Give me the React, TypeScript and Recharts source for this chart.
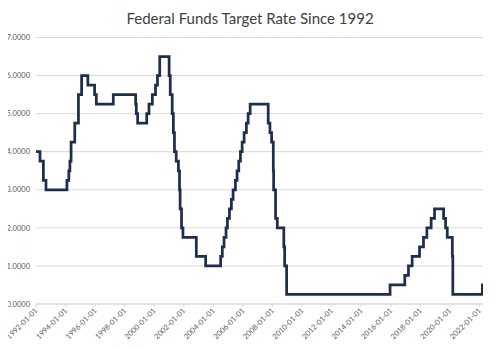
import React from 'react';
import { CartesianGrid, Line, LineChart, XAxis, YAxis } from 'recharts';

// dates where the target rate changed (plus the last observation)
const changeDates = [
    '1992-01-01', '1992-04-09', '1992-07-02', '1992-09-04', '1994-02-04', '1994-03-22', '1994-04-18',
    '1994-05-17', '1994-08-16', '1994-11-15', '1995-02-01', '1995-07-06', '1995-12-19', '1996-01-31',
    '1997-03-25', '1998-09-29', '1998-10-15', '1998-11-17', '1999-06-30', '1999-08-24', '1999-11-16',
    '2000-02-02', '2000-03-21', '2000-05-16', '2001-01-03', '2001-01-31', '2001-03-20', '2001-04-18',
    '2001-05-15', '2001-06-27', '2001-08-21', '2001-09-17', '2001-10-02', '2001-11-06', '2001-12-11',
    '2002-11-06', '2003-06-25', '2004-06-30', '2004-08-10', '2004-09-21', '2004-11-10', '2004-12-14',
    '2005-02-02', '2005-03-22', '2005-05-03', '2005-06-30', '2005-08-09', '2005-09-20', '2005-11-01',
    '2005-12-13', '2006-01-31', '2006-03-28', '2006-05-10', '2006-06-29', '2007-09-18', '2007-10-31',
    '2007-12-11', '2008-01-22', '2008-01-30', '2008-03-18', '2008-04-30', '2008-10-08', '2008-10-29',
    '2008-12-16', '2015-12-17', '2016-12-15', '2017-03-16', '2017-06-15', '2017-12-14', '2018-03-22',
    '2018-06-14', '2018-09-27', '2018-12-20', '2019-08-01', '2019-09-19', '2019-10-31', '2020-03-04',
    '2020-03-16', '2022-03-17', '2022-04-01',
];

const targetRates = [
    4.0, 3.75, 3.25, 3.0, 3.25, 3.5, 3.75,
    4.25, 4.75, 5.5, 6.0, 5.75, 5.5, 5.25,
    5.5, 5.25, 5.0, 4.75, 5.0, 5.25, 5.5,
    5.75, 6.0, 6.5, 6.0, 5.5, 5.0, 4.5,
    4.0, 3.75, 3.5, 3.0, 2.5, 2.0, 1.75,
    1.25, 1.0, 1.25, 1.5, 1.75, 2.0, 2.25,
    2.5, 2.75, 3.0, 3.25, 3.5, 3.75, 4.0,
    4.25, 4.5, 4.75, 5.0, 5.25, 4.75, 4.5,
    4.25, 3.5, 3.0, 2.25, 2.0, 1.5, 1.0,
    0.25, 0.5, 0.75, 1.0, 1.25, 1.5, 1.75,
    2.0, 2.25, 2.5, 2.25, 2.0, 1.75, 1.25,
    0.25, 0.5, 0.5,
];

const tickLabels = [
    '1992-01-01', '1994-01-01', '1996-01-01', '1998-01-01', '2000-01-01', '2002-01-01', '2004-01-01',
    '2006-01-01', '2008-01-01', '2010-01-01', '2012-01-01', '2014-01-01', '2016-01-01', '2018-01-01',
    '2020-01-01', '2022-01-01',
];

const rateTicks = [0, 1, 2, 3, 4, 5, 6, 7];

const data = changeDates.map((d, i) => ({ t: Date.parse(d), rate: targetRates[i] }));
const xTicks = tickLabels.map((d) => Date.parse(d));

const FONT = 'Lato, "Open Sans", sans-serif';

const DateTick = (props: any) => {
    const { x, y, payload } = props;
    const label = new Date(payload.value).toISOString().slice(0, 10);
    return (
        <g transform={`translate(${x},${y})`}>
            <text
                x={0}
                y={0}
                dy={3}
                textAnchor="end"
                transform="rotate(-45)"
                fill="#595959"
                fontSize={7.5}
                fontFamily={FONT}
            >
                {label}
            </text>
        </g>
    );
};

const App = () => {
    return (
        <div
            style={{
                position: 'relative',
                width: 500,
                height: 348,
                margin: -8,
                boxSizing: 'border-box',
                border: '1px solid #d9d9d9',
                background: '#fff',
            }}
        >
            <div
                style={{
                    position: 'absolute',
                    top: 7,
                    left: 0,
                    width: '100%',
                    textAlign: 'center',
                    fontFamily: FONT,
                    fontSize: 15,
                    lineHeight: '20px',
                    color: '#404040',
                }}
            >
                Federal Funds Target Rate Since 1992
            </div>
            <LineChart
                width={498}
                height={346}
                data={data}
                margin={{ top: 36.5, right: 16, bottom: 0, left: 0 }}
            >
                <CartesianGrid vertical={false} stroke="#d9d9d9" />
                <XAxis
                    dataKey="t"
                    type="number"
                    domain={[Date.parse('1992-01-01'), Date.parse('2022-04-01')]}
                    ticks={xTicks}
                    tick={<DateTick />}
                    height={43}
                    stroke="#d9d9d9"
                    tickSize={3}
                    tickMargin={2}
                    interval={0}
                    allowDataOverflow
                />
                <YAxis
                    domain={[0, 7]}
                    ticks={rateTicks}
                    width={35}
                    axisLine={false}
                    tickLine={false}
                    tickSize={4}
                    tickMargin={2}
                    tickFormatter={(v: number) => v.toFixed(4)}
                    tick={{ fill: '#595959', fontSize: 7.5, fontFamily: FONT }}
                />
                <Line
                    type="stepAfter"
                    dataKey="rate"
                    stroke="#1f2d4e"
                    strokeWidth={2.75}
                    dot={false}
                    isAnimationActive={false}
                />
            </LineChart>
        </div>
    );
};

export default App;
